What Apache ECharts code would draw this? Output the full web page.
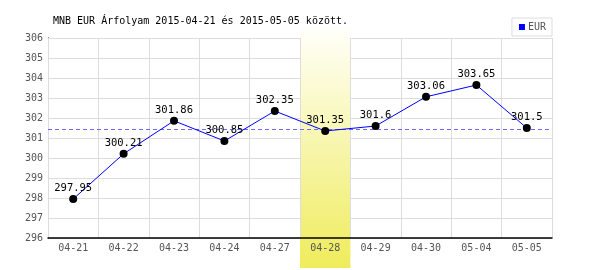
<!DOCTYPE html>
<html>
<head>
<meta charset="utf-8">
<script src="https://cdn.jsdelivr.net/npm/echarts@6/dist/echarts.min.js"></script>
<style>
html,body{margin:0;padding:0;background:#fff;}
#chart{width:600px;height:270px;}
</style>
</head>
<body>
<div id="chart"></div>
<script>
// ---- data ----
var titleText = 'MNB EUR Árfolyam 2015-04-21 és 2015-05-05 között.';
var seriesName = 'EUR';
var categories = ['04-21','04-22','04-23','04-24','04-27','04-28','04-29','04-30','05-04','05-05'];
var rates = [297.95, 300.21, 301.86, 300.85, 302.35, 301.35, 301.6, 303.06, 303.65, 301.5];
var yTicks = { min: 296, max: 306, step: 1 };
var highlightCategory = '04-28';
var bandFrom = 294.5;   // lower end of the highlight band (value units)
var bandTo = 306.5;     // upper end of the highlight band (value units)

// ---- build ----
var bandBase = categories.map(function (c) { return c === highlightCategory ? bandFrom : '-'; });
var bandSpan = categories.map(function (c) { return c === highlightCategory ? bandTo - bandFrom : '-'; });
var mono = 'DejaVu Sans Mono';
var avgColor = '#6a6aff';

var chart = echarts.init(document.getElementById('chart'), null, { renderer: 'canvas' });
chart.setOption({
  animation: false,
  backgroundColor: '#ffffff',
  title: {
    text: titleText,
    left: 53, top: 16, padding: 0,
    textStyle: { fontFamily: mono, fontSize: 10, fontWeight: 'normal', color: '#000' }
  },
  legend: {
    data: [{ name: seriesName, itemStyle: { color: '#0000ff' } }],
    right: 48, top: 18,
    padding: [4, 6, 4, 7],
    borderColor: '#dddddd', borderWidth: 1,
    icon: 'rect', itemWidth: 6, itemHeight: 6, itemGap: 3,
    textStyle: { fontFamily: mono, fontSize: 10, color: '#555', padding: [0, 0, 0, -2] }
  },
  grid: { left: 48, right: 48, top: 38, bottom: 32 },
  xAxis: {
    type: 'category',
    data: categories,
    boundaryGap: true,
    z: 3,
    axisLine: { show: true, lineStyle: { color: '#000', width: 1.5 } },
    axisTick: { show: false },
    axisLabel: { fontFamily: mono, fontSize: 10, color: '#555', margin: 5, interval: 0 },
    splitLine: { show: true, interval: 0, lineStyle: { color: '#dddddd', width: 1 } }
  },
  yAxis: {
    type: 'value',
    min: yTicks.min, max: yTicks.max, interval: yTicks.step,
    z: 0,
    axisLine: { show: true, lineStyle: { color: '#000', width: 1 } },
    axisTick: { show: false },
    axisLabel: { fontFamily: mono, fontSize: 10, color: '#555', margin: 5 },
    splitLine: { show: true, lineStyle: { color: '#dddddd', width: 1 } }
  },
  series: [
    {
      name: 'bandBase', type: 'bar', stack: 'band', data: bandBase,
      barWidth: '100%', clip: false, silent: true, z: 1,
      itemStyle: { color: 'rgba(0,0,0,0)' }
    },
    {
      name: 'band', type: 'bar', stack: 'band', data: bandSpan,
      barWidth: '100%', clip: false, silent: true, z: 1,
      itemStyle: {
        color: {
          type: 'linear', x: 0, y: 0, x2: 0, y2: 1,
          colorStops: [
            { offset: 0, color: '#fffffa' },
            { offset: 1, color: '#efec5c' }
          ]
        }
      }
    },
    {
      name: seriesName, type: 'line', data: rates, z: 5,
      symbol: 'circle', symbolSize: 8,
      lineStyle: { color: '#0000ff', width: 1 },
      itemStyle: { color: '#000000' },
      label: {
        show: true, position: 'top', distance: 1,
        fontFamily: mono, fontSize: 10.5, color: '#000'
      },
      markLine: {
        silent: true, symbol: 'none',
        label: { show: false },
        lineStyle: { color: avgColor, type: [4, 3], width: 1, opacity: 1 },
        data: [{ type: 'average' }]
      }
    }
  ]
});
</script>
</body>
</html>
